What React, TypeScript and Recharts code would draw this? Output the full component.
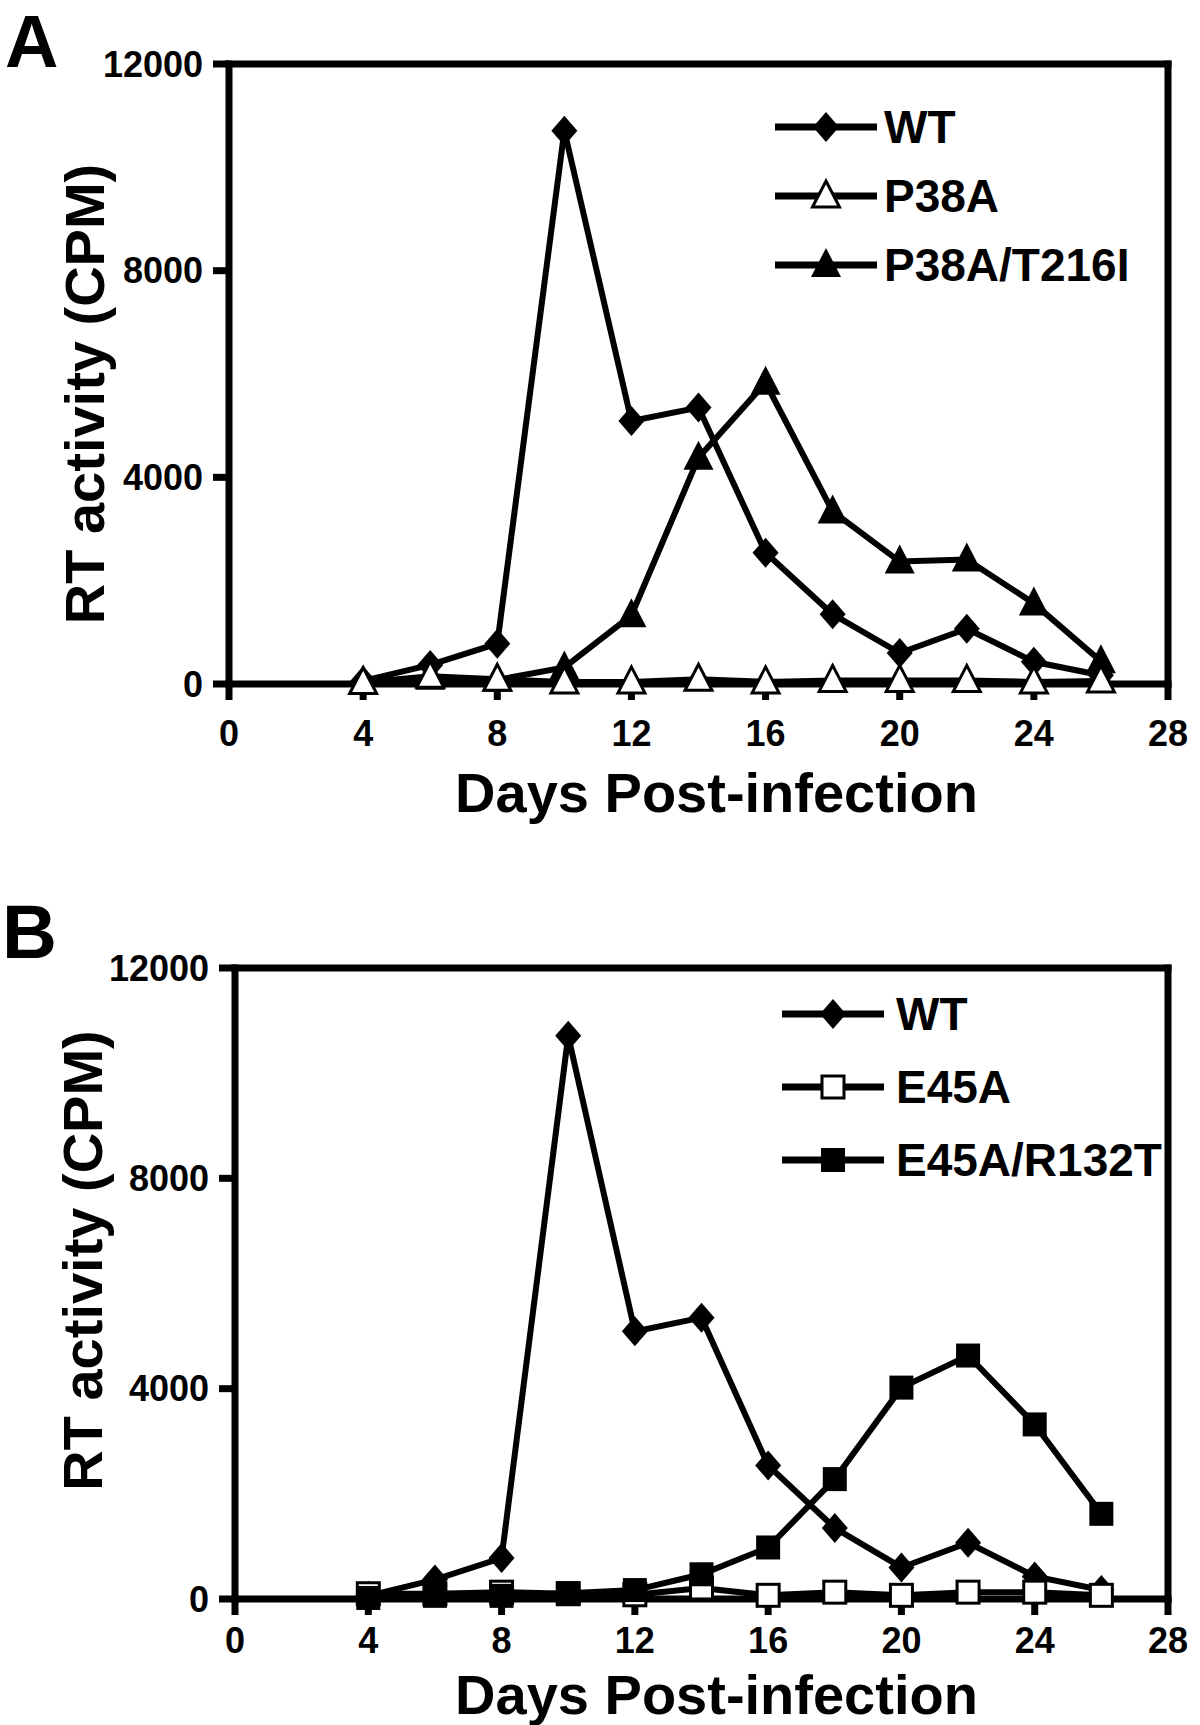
import React from 'react'
import { LineChart, Line, XAxis, YAxis, Legend } from 'recharts'

const FONT = '"Liberation Sans", Arial, Helvetica, sans-serif'

// days post-infection sampled
const days = [4, 6, 8, 10, 12, 14, 16, 18, 20, 22, 24, 26]

// RT activity (CPM)
const wtValues = [60, 370, 780, 10710, 5090, 5350, 2540, 1350, 600, 1070, 430, 170]
const p38aValues = [30, 150, 90, 40, 40, 90, 40, 70, 70, 70, 40, 60]
const p38aT216iValues = [30, 120, 80, 320, 1330, 4380, 5830, 3340, 2370, 2410, 1560, 440]
const e45aValues = [100, 100, 130, 100, 80, 210, 70, 130, 70, 130, 130, 70]
const e45aR132tValues = [20, 60, 60, 110, 170, 470, 980, 2280, 4020, 4630, 3320, 1620]

const xTicks = [0, 4, 8, 12, 16, 20, 24, 28]
const yTicks = [0, 4000, 8000, 12000]

const legendOrderA = ['WT', 'P38A', 'P38A/T216I']
const legendOrderB = ['WT', 'E45A', 'E45A/R132T']

const dataA = days.map((day, i) => ({ day, wt: wtValues[i], p38a: p38aValues[i], p38aT216i: p38aT216iValues[i] }))
const dataB = days.map((day, i) => ({ day, wt: wtValues[i], e45a: e45aValues[i], e45aR132t: e45aR132tValues[i] }))

type MarkerKind = 'diamond' | 'triangle' | 'triangleOpen' | 'square' | 'squareOpen'

const markerOf: Record<string, MarkerKind> = {
  WT: 'diamond',
  P38A: 'triangleOpen',
  'P38A/T216I': 'triangle',
  E45A: 'squareOpen',
  'E45A/R132T': 'square',
}

function Marker({ kind, cx, cy }: { kind: MarkerKind; cx: number; cy: number }) {
  if (cx == null || cy == null) return null
  switch (kind) {
    case 'diamond':
      return <path d={`M${cx},${cy - 15}L${cx + 13},${cy}L${cx},${cy + 15}L${cx - 13},${cy}Z`} fill="#000" />
    case 'triangle':
      return <path d={`M${cx},${cy - 17}L${cx + 15},${cy + 12}L${cx - 15},${cy + 12}Z`} fill="#000" />
    case 'triangleOpen':
      return (
        <path
          d={`M${cx},${cy - 15}L${cx + 13.5},${cy + 11}L${cx - 13.5},${cy + 11}Z`}
          fill="#fff"
          stroke="#000"
          strokeWidth={3}
        />
      )
    case 'square':
      return <rect x={cx - 12} y={cy - 12} width={24} height={24} fill="#000" />
    case 'squareOpen':
      return <rect x={cx - 11} y={cy - 11} width={22} height={22} fill="#fff" stroke="#000" strokeWidth={3} />
  }
  return null
}

const dotFor = (name: string) => (p: any) => (
  <Marker key={`${name}-${p.index}`} kind={markerOf[name]} cx={p.cx} cy={p.cy} />
)

const tickStyle = { fill: '#000', fontSize: 36, fontWeight: 700, fontFamily: FONT }
const axisLine = { stroke: '#000', strokeWidth: 7, strokeLinecap: 'square' as const }
const tickLine = { stroke: '#000', strokeWidth: 7 }

const xTitle = (dx: number, dy: number) => (props: any) => {
  const vb = props.viewBox || { x: 0, y: 0, width: 0, height: 0 }
  return (
    <text x={vb.x + vb.width / 2 + dx} y={vb.y + dy} textAnchor="middle" fontSize={56} fontWeight={700} fontFamily={FONT} fill="#000">
      Days Post-infection
    </text>
  )
}

const yTitle = (x: number, dy: number) => (props: any) => {
  const vb = props.viewBox || { x: 0, y: 0, width: 0, height: 0 }
  const y = vb.y + vb.height / 2 + dy
  return (
    <text x={x} y={y} transform={`rotate(-90 ${x} ${y})`} textAnchor="middle" fontSize={56} fontWeight={700} fontFamily={FONT} fill="#000">
      RT activity (CPM)
    </text>
  )
}

const legendFor = (order: string[], rowGap: number, textDx: number) => (props: any) => {
  const items = [...(props.payload || [])].sort((a, b) => order.indexOf(a.value) - order.indexOf(b.value))
  return (
    <svg width={420} height={60 + rowGap * 2} style={{ display: 'block', overflow: 'visible' }}>
      {items.map((item: any, i: number) => {
        const y = 30 + i * rowGap
        return (
          <g key={item.value}>
            <line x1={0} x2={102} y1={y} y2={y} stroke="#000" strokeWidth={7} />
            <Marker kind={markerOf[item.value]} cx={51} cy={y} />
            <text x={textDx} y={y + 16} fontSize={46} fontWeight={700} fontFamily={FONT} fill="#000">
              {item.value}
            </text>
          </g>
        )
      })}
    </svg>
  )
}

function Frame() {
  return [
    <XAxis key="top" xAxisId="top" orientation="top" type="number" domain={[0, 28]} height={1} tick={false} tickLine={false} axisLine={axisLine} />,
    <YAxis key="right" yAxisId="right" orientation="right" type="number" domain={[0, 12000]} width={1} tick={false} tickLine={false} axisLine={axisLine} />,
  ]
}

function PanelA() {
  return (
    <LineChart width={1200} height={860} data={dataA} margin={{ top: 63, right: 31, left: 0, bottom: 0 }}>
      <XAxis
        dataKey="day"
        type="number"
        domain={[0, 28]}
        ticks={xTicks}
        interval={0}
        height={176}
        tick={tickStyle}
        tickSize={16}
        tickMargin={20}
        tickLine={tickLine}
        axisLine={axisLine}
        label={xTitle(18, 128)}
      />
      <YAxis
        type="number"
        domain={[0, 12000]}
        ticks={yTicks}
        interval={0}
        width={229}
        tick={tickStyle}
        tickSize={16}
        tickMargin={10}
        tickLine={tickLine}
        axisLine={axisLine}
        label={yTitle(104, 20)}
      />
      {Frame()}
      <Legend
        layout="vertical"
        align="center"
        verticalAlign="middle"
        wrapperStyle={{ left: 775, top: 97, width: 420 }}
        content={legendFor(legendOrderA, 69, 109)}
      />
      <Line name="WT" dataKey="wt" type="linear" stroke="#000" strokeWidth={6} dot={dotFor('WT')} activeDot={false} isAnimationActive={false} />
      <Line name="P38A/T216I" dataKey="p38aT216i" type="linear" stroke="#000" strokeWidth={6} dot={dotFor('P38A/T216I')} activeDot={false} isAnimationActive={false} />
      <Line name="P38A" dataKey="p38a" type="linear" stroke="#000" strokeWidth={6} dot={dotFor('P38A')} activeDot={false} isAnimationActive={false} />
    </LineChart>
  )
}

function PanelB() {
  return (
    <LineChart width={1200} height={865} data={dataB} margin={{ top: 107, right: 31, left: 0, bottom: 0 }}>
      <XAxis
        dataKey="day"
        type="number"
        domain={[0, 28]}
        ticks={xTicks}
        interval={0}
        height={126}
        tick={tickStyle}
        tickSize={16}
        tickMargin={12}
        tickLine={tickLine}
        axisLine={axisLine}
        label={xTitle(15, 115)}
      />
      <YAxis
        type="number"
        domain={[0, 12000]}
        ticks={yTicks}
        interval={0}
        width={235}
        tick={tickStyle}
        tickSize={16}
        tickMargin={10}
        tickLine={tickLine}
        axisLine={axisLine}
        label={yTitle(102, -23)}
      />
      {Frame()}
      <Legend
        layout="vertical"
        align="center"
        verticalAlign="middle"
        wrapperStyle={{ left: 782, top: 124, width: 420 }}
        content={legendFor(legendOrderB, 73, 114)}
      />
      <Line name="WT" dataKey="wt" type="linear" stroke="#000" strokeWidth={6} dot={dotFor('WT')} activeDot={false} isAnimationActive={false} />
      <Line name="E45A" dataKey="e45a" type="linear" stroke="#000" strokeWidth={6} dot={dotFor('E45A')} activeDot={false} isAnimationActive={false} />
      <Line name="E45A/R132T" dataKey="e45aR132t" type="linear" stroke="#000" strokeWidth={6} dot={dotFor('E45A/R132T')} activeDot={false} isAnimationActive={false} />
    </LineChart>
  )
}

export default function App() {
  return (
    <div style={{ position: 'absolute', left: 0, top: 0, width: 1200, height: 1725, background: '#fff', fontFamily: FONT }}>
      <div style={{ position: 'absolute', left: 0, top: 0 }}>
        <PanelA />
      </div>
      <div style={{ position: 'absolute', left: 0, top: 860 }}>
        <PanelB />
      </div>
      <svg width={1200} height={1725} style={{ position: 'absolute', left: 0, top: 0, pointerEvents: 'none' }}>
        <text x={5} y={67} fontSize={74} fontWeight={700} fontFamily={FONT} fill="#000">A</text>
        <text x={2} y={958} fontSize={76} fontWeight={700} fontFamily={FONT} fill="#000">B</text>
      </svg>
    </div>
  )
}
